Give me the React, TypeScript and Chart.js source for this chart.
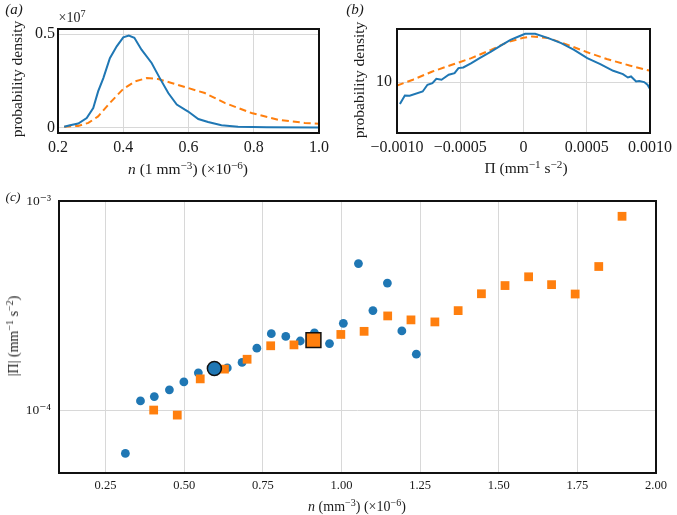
import React, { useEffect, useRef } from "react";
import { Chart, registerables } from "chart.js";
Chart.register(...registerables);

const BLUE = "#1f77b4";
const ORANGE = "#ff7f0e";
const FONT = '"Liberation Serif", "DejaVu Serif", serif';
const TXT = "#1a1a1a";
const GRID = "#d8d8d8";

// Panel (a): probability density of n (units of 1e7)
const aBlueN = [0.219, 0.237, 0.262, 0.288, 0.308, 0.323, 0.339, 0.359, 0.38, 0.4, 0.417, 0.434, 0.456, 0.487, 0.512, 0.538, 0.564, 0.589, 0.599, 0.63, 0.66, 0.701, 0.752, 0.84, 1.0];
const aBlueP = [0.004, 0.011, 0.021, 0.05, 0.104, 0.193, 0.264, 0.371, 0.434, 0.482, 0.492, 0.48, 0.416, 0.345, 0.264, 0.184, 0.122, 0.095, 0.085, 0.045, 0.029, 0.011, 0.004, 0.001, 0.0];
const aOrangeN = [0.219, 0.262, 0.293, 0.323, 0.359, 0.4, 0.436, 0.472, 0.507, 0.548, 0.599, 0.65, 0.711, 0.793, 0.875, 0.956, 1.0];
const aOrangeP = [0.003, 0.008, 0.024, 0.059, 0.131, 0.206, 0.246, 0.264, 0.259, 0.238, 0.211, 0.184, 0.131, 0.077, 0.041, 0.024, 0.02];
const aXTicks = [0.2, 0.4, 0.6, 0.8, 1.0];
const aYTicks = [0, 0.5];

// Panel (b): probability density of Pi (log scale)
const bBlueX = [-0.000977, -0.000938, -0.0009, -0.000797, -0.000759, -0.00072, -0.000689, -0.000648, -0.000591, -0.000545, -0.000514, -0.000476, -0.000412, -0.000347, -0.000257, -0.00018, -0.000103, -0.000039, 0.000013, 0.000092, 0.000196, 0.000298, 0.0004, 0.000504, 0.000607, 0.000709, 0.000786, 0.000825, 0.00085, 0.00089, 0.000915, 0.000954, 0.00098, 0.001];
const bBlueY = [7.42, 8.34, 8.31, 8.8, 9.64, 9.86, 10.46, 10.33, 11.05, 11.3, 12.1, 12.2, 12.95, 13.86, 15.16, 16.44, 17.77, 18.6, 19.3, 19.3, 18.2, 17.0, 15.5, 13.86, 12.77, 11.66, 11.14, 10.65, 10.8, 10.08, 10.15, 10.0, 9.64, 9.1];
const bOrangeX = [-0.001, -0.000874, -0.00072, -0.000566, -0.000412, -0.000257, -0.000128, 0.0, 0.000067, 0.000196, 0.00035, 0.000504, 0.000658, 0.000838, 0.000992];
const bOrangeY = [9.55, 10.33, 11.55, 12.65, 13.86, 15.5, 17.2, 18.3, 18.6, 18.2, 16.6, 15.0, 13.7, 12.53, 11.7];
const bXTicks = [-0.001, -0.0005, 0, 0.0005, 0.001];
const bXLabels = ["\u22120.0010", "\u22120.0005", "0", "0.0005", "0.0010"];
const bYTicks = [10];

// Panel (c): |Pi| vs n
const cBlueN = [0.313, 0.361, 0.405, 0.453, 0.499, 0.545, 0.637, 0.684, 0.731, 0.777, 0.823, 0.869, 0.914, 0.962, 1.006, 1.054, 1.1, 1.146, 1.192, 1.238];
const cBluePi = [6.2e-5, 1.106e-4, 1.16e-4, 1.25e-4, 1.364e-4, 1.507e-4, 1.59e-4, 1.69e-4, 1.977e-4, 2.32e-4, 2.25e-4, 2.14e-4, 2.34e-4, 2.08e-4, 2.6e-4, 5.02e-4, 2.99e-4, 4.05e-4, 2.39e-4, 1.85e-4];
const cOrangeN = [0.403, 0.478, 0.551, 0.628, 0.7, 0.775, 0.849, 0.998, 1.072, 1.147, 1.221, 1.297, 1.371, 1.445, 1.52, 1.595, 1.668, 1.743, 1.818, 1.892];
const cOrangePi = [1.0e-4, 9.46e-5, 1.41e-4, 1.57e-4, 1.75e-4, 2.03e-4, 2.05e-4, 2.3e-4, 2.38e-4, 2.82e-4, 2.7e-4, 2.64e-4, 2.99e-4, 3.6e-4, 3.94e-4, 4.34e-4, 3.98e-4, 3.59e-4, 4.86e-4, 8.45e-4];
const cMeanBlue = [0.596, 1.58e-4];
const cMeanOrange = [0.911, 2.16e-4];
const cXTicks = [0.25, 0.5, 0.75, 1.0, 1.25, 1.5, 1.75, 2.0];
const cYTicks = [1e-4, 1e-3];

const W = 677;
const H = 515;

const pts = (xs: number[], ys: number[]) => xs.map((x, i) => ({ x, y: ys[i] }));

const framePlugin = {
  id: "frame",
  afterDraw(chart: any) {
    const { ctx, chartArea } = chart;
    const { left, top, right, bottom } = chartArea;
    ctx.save();
    ctx.strokeStyle = "#111";
    ctx.lineWidth = 2;
    ctx.strokeRect(left, top, right - left, bottom - top);
    ctx.restore();
  },
};

function axis(opts: any) {
  const { type, min, max, ticks, labels, size, pad, fit, horizontal } = opts;
  return {
    type,
    min,
    max,
    afterBuildTicks: (s: any) => {
      s.ticks = ticks.map((v: number) => ({ value: v }));
    },
    afterFit: (s: any) => {
      if (horizontal) s.height = fit;
      else s.width = fit;
    },
    ticks: {
      autoSkip: false,
      maxRotation: 0,
      minRotation: 0,
      padding: pad,
      color: TXT,
      font: { family: FONT, size },
      callback: (v: any, i: number) => labels[i],
    },
    grid: { color: GRID, lineWidth: 1, drawTicks: false },
    border: { display: false },
  };
}

function baseOptions(padding: any, scales: any) {
  return {
    responsive: false,
    animation: false as const,
    devicePixelRatio: 1,
    events: [],
    layout: { padding },
    plugins: { legend: { display: false }, title: { display: false }, tooltip: { enabled: false } },
    scales,
  };
}

function Label(props: { x: number; y: number; size: number; rot?: boolean; italic?: boolean; children: any }) {
  const { x, y, size, rot, italic, children } = props;
  return (
    <div
      style={{
        position: "absolute",
        left: x,
        top: y,
        transform: `translate(-50%, -50%)${rot ? " rotate(-90deg)" : ""}`,
        fontSize: size,
        fontStyle: italic ? "italic" : "normal",
        whiteSpace: "nowrap",
        color: TXT,
        lineHeight: 1,
      }}
    >
      {children}
    </div>
  );
}

const supStyle: React.CSSProperties = { fontSize: "0.72em", verticalAlign: "0.45em", lineHeight: 0 };
const Sup = ({ children }: { children: any }) => <span style={supStyle}>{children}</span>;

export default function App() {
  const aRef = useRef<HTMLCanvasElement>(null);
  const bRef = useRef<HTMLCanvasElement>(null);
  const cRef = useRef<HTMLCanvasElement>(null);

  useEffect(() => {
    const charts: Chart[] = [];

    charts.push(
      new Chart(aRef.current!, {
        type: "scatter",
        data: {
          datasets: [
            { data: pts(aBlueN, aBlueP), showLine: true, borderColor: BLUE, borderWidth: 2, pointRadius: 0, tension: 0 },
            { data: pts(aOrangeN, aOrangeP), showLine: true, borderColor: ORANGE, borderWidth: 2, borderDash: [7, 4], pointRadius: 0, tension: 0 },
          ],
        },
        options: baseOptions({ left: 0, top: 29, right: W - 319, bottom: H - 180 }, {
          x: axis({ type: "linear", min: 0.2, max: 1.0, ticks: aXTicks, labels: aXTicks.map((v) => v.toFixed(1)), size: 16, pad: 5, fit: 47, horizontal: true }),
          y: axis({ type: "linear", min: -0.03, max: 0.527, ticks: aYTicks, labels: ["0", "0.5"], size: 16, pad: 3, fit: 58, horizontal: false }),
        }) as any,
        plugins: [framePlugin],
      })
    );

    charts.push(
      new Chart(bRef.current!, {
        type: "scatter",
        data: {
          datasets: [
            { data: pts(bBlueX, bBlueY), showLine: true, borderColor: BLUE, borderWidth: 2, pointRadius: 0, tension: 0 },
            { data: pts(bOrangeX, bOrangeY), showLine: true, borderColor: ORANGE, borderWidth: 2, borderDash: [7, 4], pointRadius: 0, tension: 0 },
          ],
        },
        options: baseOptions({ left: 330, top: 29, right: W - 656, bottom: H - 180 }, {
          x: axis({ type: "linear", min: -0.001, max: 0.001, ticks: bXTicks, labels: bXLabels, size: 16, pad: 5, fit: 47, horizontal: true }),
          y: axis({ type: "logarithmic", min: 5, max: 20.6, ticks: bYTicks, labels: ["10"], size: 16, pad: 5, fit: 67, horizontal: false }),
        }) as any,
        plugins: [framePlugin],
      })
    );

    charts.push(
      new Chart(cRef.current!, {
        type: "scatter",
        data: {
          datasets: [
            { data: [{ x: cMeanOrange[0], y: cMeanOrange[1] }], backgroundColor: ORANGE, borderColor: "#111", borderWidth: 1.5, pointStyle: "rect", pointRadius: 10.5 },
            { data: [{ x: cMeanBlue[0], y: cMeanBlue[1] }], backgroundColor: BLUE, borderColor: "#111", borderWidth: 1.5, pointStyle: "circle", pointRadius: 7 },
            { data: pts(cOrangeN, cOrangePi), backgroundColor: ORANGE, borderWidth: 0, pointStyle: "rect", pointRadius: 6.2 },
            { data: pts(cBlueN, cBluePi), backgroundColor: BLUE, borderWidth: 0, pointStyle: "circle", pointRadius: 4.4 },
          ],
        },
        options: baseOptions({ left: 0, top: 201, right: W - 656, bottom: 0 }, {
          x: axis({ type: "linear", min: 0.102, max: 2.0, ticks: cXTicks, labels: cXTicks.map((v) => v.toFixed(2)), size: 12.5, pad: 5, fit: H - 473, horizontal: true }),
          y: axis({ type: "logarithmic", min: 5e-5, max: 1e-3, ticks: cYTicks, labels: ["10\u207B\u2074", "10\u207B\u00B3"], size: 13.5, pad: 8, fit: 59, horizontal: false }),
        }) as any,
        plugins: [framePlugin],
      })
    );

    return () => charts.forEach((c) => c.destroy());
  }, []);

  const cv: React.CSSProperties = { position: "absolute", left: 0, top: 0, width: W, height: H };

  return (
    <div style={{ position: "absolute", left: 0, top: 0, width: W, height: H, background: "#fff", overflow: "hidden", fontFamily: FONT }}>
      <canvas ref={aRef} width={W} height={H} style={cv} />
      <canvas ref={bRef} width={W} height={H} style={cv} />
      <canvas ref={cRef} width={W} height={H} style={cv} />

      <Label x={14} y={9} size={15} italic>(a)</Label>
      <Label x={72} y={18} size={14}>×10<Sup>7</Sup></Label>
      <Label x={17} y={79} size={15.5} rot>probability density</Label>
      <Label x={188} y={169} size={15.5}><i>n</i> (1 mm<Sup>−3</Sup>) (×10<Sup>−6</Sup>)</Label>

      <Label x={355} y={9} size={15} italic>(b)</Label>
      <Label x={359} y={80} size={15.5} rot>probability density</Label>
      <Label x={526} y={168} size={15.5}>Π (mm<Sup>−1</Sup> s<Sup>−2</Sup>)</Label>

      <Label x={13} y={197} size={13.5} italic>(c)</Label>
      <Label x={14} y={336} size={14} rot>|Π| (mm<Sup>−1</Sup> s<Sup>−2</Sup>)</Label>
      <Label x={357} y={507} size={14}><i>n</i> (mm<Sup>−3</Sup>) (×10<Sup>−6</Sup>)</Label>
    </div>
  );
}
